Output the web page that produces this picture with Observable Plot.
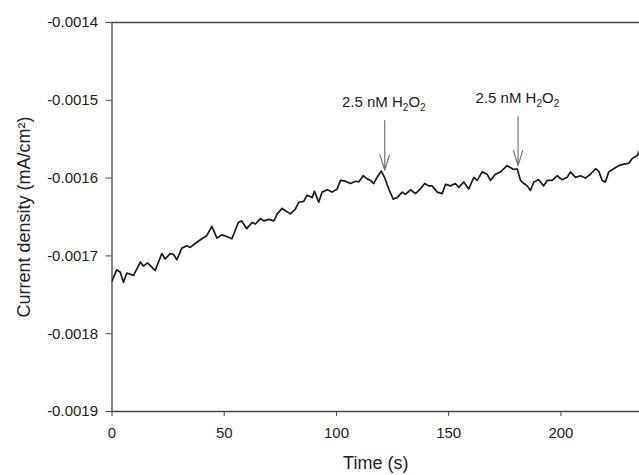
<!DOCTYPE html>
<html><head><meta charset="utf-8">
<script src="https://cdn.jsdelivr.net/npm/d3@7"></script>
<script src="https://cdn.jsdelivr.net/npm/@observablehq/plot@0.6"></script>
<style>body{margin:0;background:#fff} svg{display:block}</style>
</head><body><div id="chart"></div>
<script>
// Time (s)
const time = [0,2.1,3.7,5.1,6.6,9.6,12.6,14.0,15.9,19.2,22.2,23.7,25.9,27.4,28.9,31.1,33.3,34.8,37.1,40.0,
42.2,44.5,46.7,48.9,51.1,53.4,56.3,57.8,60.0,62.4,63.9,66.1,67.6,69.8,72.1,73.6,75.8,77.3,79.5,81.7,
83.2,85.4,86.9,89.2,90.2,92.1,93.6,95.9,98.1,100.3,101.8,104.0,106.2,108.5,109.9,111.9,113.7,115.1,116.6,118.1,
120.0,121.4,123.3,125.3,127.0,129.3,130.7,133.0,135.2,137.4,139.3,141.1,142.6,144.9,147.1,148.6,150.8,153.0,154.5,156.7,
158.9,161.2,162.7,164.9,167.1,168.6,170.8,173.1,174.5,176.0,179.0,180.5,182.0,183.5,185.0,186.4,187.9,190.1,192.3,193.9,
196.1,198.3,200.5,202.8,204.2,206.5,208.7,210.9,213.1,215.4,216.8,218.4,219.8,221.3,223.5,225.7,228.0,230.2,231.7,233.9,235.0];
// Current density (mA/cm2)
const current = [-0.001732,-0.001718,-0.001721,-0.001734,-0.001722,-0.001725,-0.001708,-0.001713,-0.001709,-0.001719,
-0.001697,-0.001704,-0.001697,-0.001698,-0.001705,-0.001690,-0.001687,-0.001689,-0.001684,-0.001678,
-0.001674,-0.001662,-0.001677,-0.001673,-0.001675,-0.001678,-0.001657,-0.001655,-0.001665,-0.001657,
-0.001659,-0.001652,-0.001655,-0.001653,-0.001655,-0.001646,-0.001639,-0.001642,-0.001646,-0.001640,
-0.001631,-0.001630,-0.001622,-0.001625,-0.001617,-0.001631,-0.001618,-0.001615,-0.001618,-0.001614,
-0.001603,-0.001604,-0.001607,-0.001604,-0.001605,-0.001597,-0.001601,-0.001603,-0.001607,-0.001599,
-0.001591,-0.001599,-0.001614,-0.001627,-0.001625,-0.001618,-0.001621,-0.001615,-0.001620,-0.001614,
-0.001607,-0.001610,-0.001610,-0.001618,-0.001620,-0.001608,-0.001610,-0.001607,-0.001612,-0.001605,
-0.001614,-0.001599,-0.001603,-0.001592,-0.001595,-0.001603,-0.001595,-0.001592,-0.001588,-0.001584,
-0.001589,-0.001588,-0.001603,-0.001607,-0.001610,-0.001616,-0.001605,-0.001602,-0.001610,-0.001603,
-0.001603,-0.001597,-0.001602,-0.001599,-0.001592,-0.001599,-0.001597,-0.001600,-0.001595,-0.001588,
-0.001591,-0.001603,-0.001605,-0.001592,-0.001588,-0.001584,-0.001582,-0.001581,-0.001575,-0.001571,-0.001565];

const xTicks = [0, 50, 100, 150, 200];
const yTicks = [-0.0019, -0.0018, -0.0017, -0.0016, -0.0015, -0.0014];

// Injection annotations
const injectTime = [121.5, 180.9];
const arrowTop = [-0.001526, -0.001521];
const arrowTip = [-0.001590, -0.001584];
const labelTime = [121.1, 180.6];
const labelLevel = [-0.001503, -0.001497];
const labelText = ["2.5 nM H2O2", "2.5 nM H2O2"];

const data = time.map((t, i) => ({t, v: current[i]}));
const arrows = injectTime.map((t, i) => ({t, top: arrowTop[i], tip: arrowTip[i]}));
const labels = labelTime.map((t, i) => ({t, v: labelLevel[i], s: labelText[i]}));

const axisColor = "#444";
const svg = Plot.plot({
  width: 639, height: 475,
  marginLeft: 111.5, marginRight: 0, marginTop: 22, marginBottom: 64,
  style: {fontFamily: "'Liberation Sans', Arial, sans-serif", fontSize: "15px", color: "#222", background: "#fff", overflow: "visible"},
  x: {domain: [0, 235]},
  y: {domain: [-0.0019, -0.0014]},
  marks: [
    Plot.ruleX([0], {stroke: axisColor, strokeWidth: 1.3}),
    Plot.ruleY([-0.0014, -0.0019], {stroke: axisColor, strokeWidth: 1.3}),
    Plot.axisX({ticks: xTicks, tickSize: 5, tickPadding: 11, label: null, stroke: axisColor, fontSize: 15, fill: "#222"}),
    Plot.axisY({ticks: yTicks, tickSize: 6, tickPadding: 8, label: null, stroke: axisColor, fontSize: 15, fill: "#222", tickFormat: d => d.toFixed(4)}),
    Plot.text(["Time (s)"], {text: d => d, frameAnchor: "bottom", dy: 57, fontSize: 18, fill: "#222"}),
    Plot.text(["Current density (mA/cm²)"], {text: d => d, frameAnchor: "left", textAnchor: "middle", lineAnchor: "middle", dx: -88, rotate: -90, fontSize: 18, fill: "#222"}),
    Plot.line(data, {x: "t", y: "v", stroke: "#1b1b1b", strokeWidth: 1.7, clip: true}),
    Plot.arrow(arrows, {x1: "t", y1: "top", x2: "t", y2: "tip", stroke: "#777", strokeWidth: 1.2, headAngle: 34, headLength: 20}),
    Plot.text(labels, {x: "t", y: "v", text: "s", fontSize: 15, fill: "#222"})
  ]
});

// subscripts for H2O2
d3.select(svg).selectAll("text").each(function() {
  if (this.textContent === "2.5 nM H2O2") {
    const el = d3.select(this);
    el.text(null);
    el.append("tspan").text("2.5 nM H");
    el.append("tspan").attr("font-size", "10px").attr("dy", "4").text("2");
    el.append("tspan").attr("dy", "-4").text("O");
    el.append("tspan").attr("font-size", "10px").attr("dy", "4").text("2");
  }
});
document.getElementById("chart").appendChild(svg);
</script>
</body></html>
